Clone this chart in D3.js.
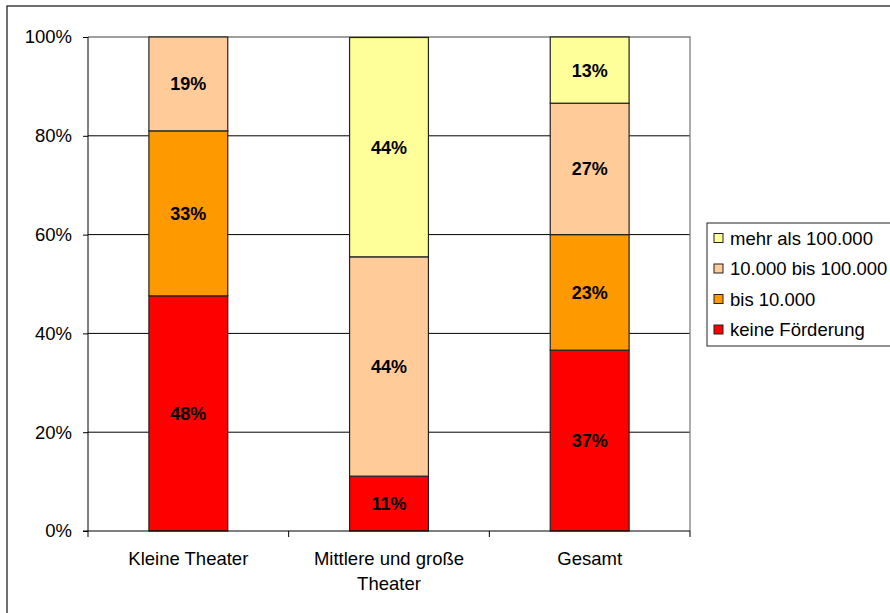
<!DOCTYPE html>
<html><head><meta charset="utf-8">
<script src="https://cdn.jsdelivr.net/npm/d3@7"></script>
<style>body{margin:0;background:#fff}svg{display:block;font-family:"Liberation Sans",Arial,sans-serif}</style>
</head><body>
<svg id="c" width="890" height="613"></svg>
<script>
const categories = [["Kleine Theater"], ["Mittlere und große", "Theater"], ["Gesamt"]];
const seriesNames = ["keine Förderung", "bis 10.000", "10.000 bis 100.000", "mehr als 100.000"];
const seriesColors = ["#FF0000", "#FF9900", "#FFCC99", "#FFFF99"];
const keineFoerderung = [47.6, 11.1, 36.6];
const bis10000 = [33.4, 0, 23.4];
const bis100000 = [19.0, 44.4, 26.6];
const mehrAls100000 = [0, 44.4, 13.4];
const yTicks = [0, 20, 40, 60, 80, 100];

const FS = 18.5, FSB = 18;
const svg = d3.select("#c");
const L = 88, R = 690, T = 37, B = 531;

// outer border
svg.append("rect").attr("x", 7).attr("y", 6).attr("width", 1000).attr("height", 1000)
  .attr("fill", "none").attr("stroke", "#222").attr("stroke-width", 1.3);

const x = d3.scaleBand().domain(d3.range(categories.length)).range([L, R]).paddingInner(0.607).paddingOuter(0.3035);
const y = d3.scaleLinear().domain([0, 100]).range([B, T]);

// gridlines
svg.append("g").selectAll("line").data(yTicks.filter(t => t > 0 && t < 100)).join("line")
  .attr("x1", L).attr("x2", R).attr("y1", d => y(d)).attr("y2", d => y(d))
  .attr("stroke", "#000").attr("stroke-width", 1);
// plot border top/right
svg.append("path").attr("d", `M${L},${y(100)}H${R}V${B}`).attr("fill", "none").attr("stroke", "#808080").attr("stroke-width", 1.3);

const data = categories.map((c, i) => ({i, vals: [keineFoerderung[i], bis10000[i], bis100000[i], mehrAls100000[i]]}));
const stack = d3.stack().keys([0, 1, 2, 3]).value((d, k) => d.vals[k]);
const layers = stack(data);

layers.forEach((layer, k) => {
  const g = svg.append("g");
  layer.forEach((seg, i) => {
    if (seg[1] - seg[0] <= 0) return;
    g.append("rect").attr("x", x(i)).attr("width", x.bandwidth())
      .attr("y", y(seg[1])).attr("height", y(seg[0]) - y(seg[1]))
      .attr("fill", seriesColors[k]).attr("stroke", "#222").attr("stroke-width", 1.2);
    g.append("text").attr("x", x(i) + x.bandwidth() / 2).attr("y", (y(seg[0]) + y(seg[1])) / 2)
      .attr("dy", "0.36em").attr("text-anchor", "middle").attr("font-weight", "bold").attr("font-size", FSB)
      .attr("fill", "#000").text(Math.round(seg[1] - seg[0]) + "%");
  });
});

// y axis
const yAxis = d3.axisLeft(y).tickValues(yTicks).tickFormat(d => d + "%").tickSize(5).tickPadding(11);
const ga = svg.append("g").attr("transform", `translate(${L},0)`).call(yAxis);
ga.select(".domain").attr("stroke", "#000").attr("d", `M-5,${B}H0V${T}`);
ga.selectAll(".tick line").attr("stroke", "#000");
ga.selectAll("text").attr("font-size", FS).attr("fill", "#000").attr("font-family", "Liberation Sans, Arial, sans-serif");

// x axis
svg.append("line").attr("x1", L).attr("x2", R).attr("y1", B).attr("y2", B).attr("stroke", "#000").attr("stroke-width", 1.2);
const step = (R - L) / categories.length;
svg.append("g").selectAll("line").data(d3.range(categories.length + 1)).join("line")
  .attr("x1", d => L + d * step).attr("x2", d => L + d * step).attr("y1", B).attr("y2", B + 6)
  .attr("stroke", "#000");
categories.forEach((lines, i) => {
  const t = svg.append("text").attr("text-anchor", "middle").attr("font-size", FS).attr("fill", "#000");
  lines.forEach((ln, j) => t.append("tspan").attr("x", x(i) + x.bandwidth() / 2).attr("y", 565 + j * 25).text(ln));
});

// legend
const lg = svg.append("g");
lg.append("rect").attr("x", 707).attr("y", 223).attr("width", 300).attr("height", 123)
  .attr("fill", "#fff").attr("stroke", "#222").attr("stroke-width", 1);
const order = [3, 2, 1, 0];
order.forEach((k, j) => {
  const cy = 238 + j * 30.5;
  lg.append("rect").attr("x", 714).attr("y", cy - 4.5).attr("width", 9).attr("height", 9)
    .attr("fill", seriesColors[k]).attr("stroke", "#222").attr("stroke-width", 1);
  lg.append("text").attr("x", 730).attr("y", cy).attr("dy", "0.36em").attr("font-size", FS).attr("fill", "#000").text(seriesNames[k]);
});
</script>
</body></html>
